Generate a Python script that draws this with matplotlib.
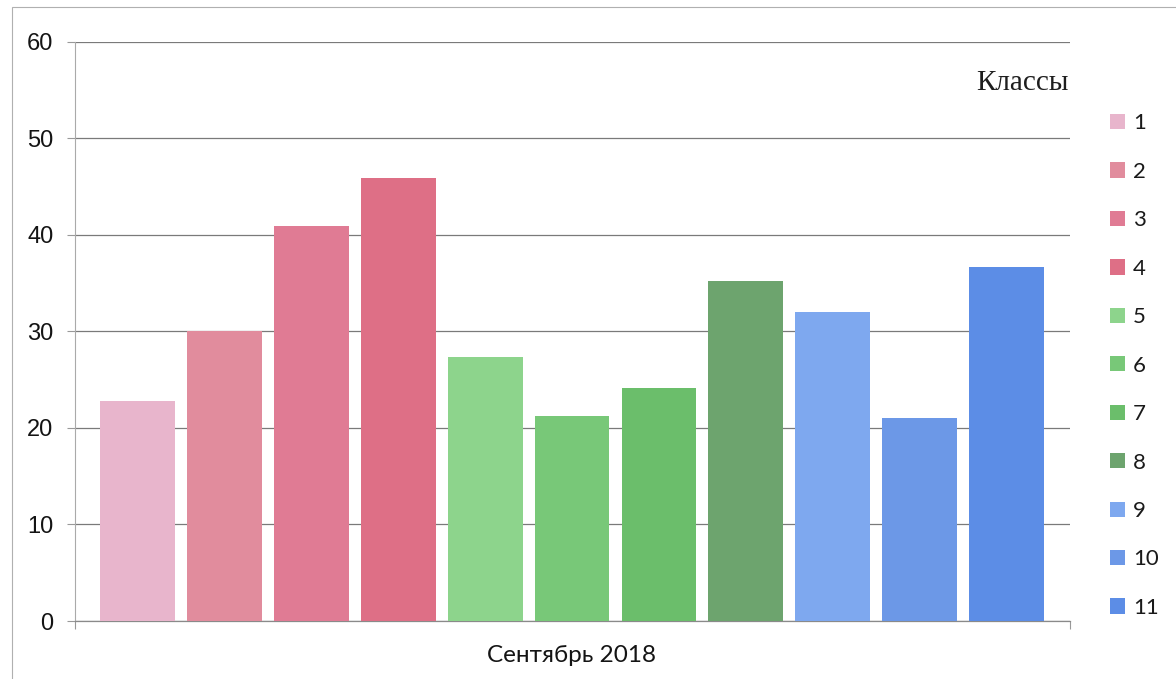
import matplotlib
matplotlib.use("Agg")
import matplotlib.pyplot as plt
from matplotlib.patches import Patch, Rectangle
import numpy as np

classes = ["1", "2", "3", "4", "5", "6", "7", "8", "9", "10", "11"]
values = [22.8, 30.0, 40.9, 45.9, 27.4, 21.2, 24.1, 35.2, 32.0, 21.0, 36.7]
colors = ["#E8B5CC", "#E18C9D", "#E07B94", "#DE6F86",
          "#8DD48C", "#78C878", "#6BBE6B", "#6DA46E",
          "#7EA8EF", "#6C98E7", "#5C8DE6"]
y_ticks = [0, 10, 20, 30, 40, 50, 60]
x_title = "Сентябрь 2018"
legend_title = "Классы"

fig = plt.figure(figsize=(11.76, 6.79), dpi=100)
ax = fig.add_axes([0.0638, 0.0854, 0.846, 0.853])

x = np.arange(len(values))
ax.bar(x, values, width=0.86, color=colors, zorder=3)

ax.set_ylim(0, 60)
ax.set_xlim(-0.72, 10.73)
ax.set_yticks(y_ticks)
ax.set_yticklabels([str(t) for t in y_ticks], fontfamily="Liberation Sans",
                   fontsize=17, color="#141414")
ax.tick_params(axis="y", length=5.5, width=0.8, color="#999999", pad=10)
ax.set_xticks([-0.72, 10.73])
ax.set_xticklabels([])
ax.tick_params(axis="x", length=6, width=0.8, color="#999999")
ax.grid(axis="y", color="#7a7a7a", linewidth=0.9, zorder=0)

for side in ["top", "right"]:
    ax.spines[side].set_visible(False)
ax.spines["left"].set_color("#aaaaaa")
ax.spines["left"].set_linewidth(0.8)
ax.spines["bottom"].set_color("#8a8a8a")
ax.spines["bottom"].set_linewidth(0.9)

fig.text(0.486, 0.035, x_title, ha="center", va="center",
         fontfamily="Lato", fontsize=17.5, color="#141414")

handles = [Patch(facecolor=c, edgecolor="none") for c in colors]
leg = fig.legend(handles, classes, loc="upper left",
                 bbox_to_anchor=(0.944, 0.833), frameon=False,
                 prop={"family": "Lato", "size": 16},
                 handlelength=0.68, handleheight=0.68, handletextpad=0.35,
                 labelspacing=1.28, borderaxespad=0, borderpad=0)
for t in leg.get_texts():
    t.set_color("#1a1a1a")

fig.text(0.869, 0.878, legend_title, ha="center", va="center",
         fontfamily="Liberation Serif", fontsize=21, color="#1e1e1e")

# thin page frame around the chart area
fig.add_artist(Rectangle((0.010, -0.01), 1.2, 1.0, transform=fig.transFigure,
                         fill=False, edgecolor="#b0b0b0", linewidth=0.8))

fig.savefig("out.png", dpi=100)
